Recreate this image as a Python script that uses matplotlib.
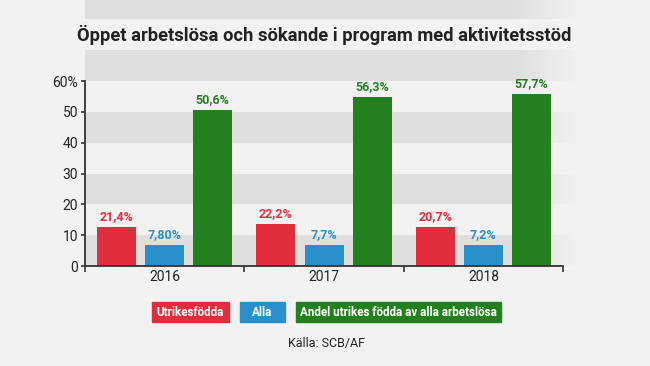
import numpy as np
import matplotlib
matplotlib.use("Agg")
import matplotlib.pyplot as plt

# data (bar heights as drawn, labels as printed)
years = ["2016", "2017", "2018"]
utrikes = [12.7, 13.5, 12.5]
alla = [6.8, 6.7, 6.7]
andel = [50.6, 54.8, 55.7]
utrikes_labels = ["21,4%", "22,2%", "20,7%"]
alla_labels = ["7,80%", "7,7%", "7,2%"]
andel_labels = ["50,6%", "56,3%", "57,7%"]
legend_names = ["Utrikesfödda", "Alla", "Andel utrikes födda av alla arbetslösa"]

RED = "#e22d3e"
BLUE = "#2a90cc"
GREEN = "#23801f"
BG = "#f2f2f2"
BAND = "#dfdfdf"
INK = "#222222"

plt.rcParams["font.family"] = ["Roboto", "DejaVu Sans"]

fig = plt.figure(figsize=(6.5, 3.66), dpi=100)
fig.patch.set_facecolor(BG)
W, H = 650, 366
ax = fig.add_axes([85 / W, 1 - 266 / H, (579 - 85) / W, 266 / H])
ax.set_facecolor(BG)

x0, x1 = -0.5, 2.6
top = 266 / 3.083
ax.set_xlim(x0, x1)
ax.set_ylim(0, top)

# background bands, fading out to the right
ncol = 500
cols = np.linspace(0, 1, ncol)
alpha = np.clip((1 - cols) / 0.13, 0, 1)
nrow = 9
img = np.zeros((nrow, ncol, 4))
band_rgb = np.array(matplotlib.colors.to_rgb(BAND))
bg_rgb = np.array(matplotlib.colors.to_rgb(BG))
for r in range(nrow):
    if r % 2 == 0:
        for c in range(ncol):
            img[r, c, :3] = band_rgb * alpha[c] + bg_rgb * (1 - alpha[c])
    else:
        img[r, :, :3] = bg_rgb
    img[r, :, 3] = 1
ax.imshow(img, extent=(x0, x1, 0, 90), origin="lower", aspect="auto",
          interpolation="nearest", zorder=0)

pos = np.arange(len(years))
w = 0.245
step = 0.302
series = [(utrikes, utrikes_labels, RED, -step),
          (alla, alla_labels, BLUE, 0),
          (andel, andel_labels, GREEN, step)]
for vals, labs, col, off in series:
    ax.bar(pos + off, vals, width=w, color=col, zorder=2)
    for xi, v, lab in zip(pos + off, vals, labs):
        ax.text(xi, v + 1.3, lab, ha="center", va="bottom", color=col,
                fontsize=9, fontweight="bold", zorder=3)

# axes
for s in ["top", "right"]:
    ax.spines[s].set_visible(False)
ax.spines["left"].set_bounds(0, 60)
ax.spines["bottom"].set_bounds(-0.5, 2.5)
for s in ["left", "bottom"]:
    ax.spines[s].set_color("#333333")
    ax.spines[s].set_linewidth(1.3)
    ax.spines[s].set_zorder(4)

ax.set_yticks([0, 10, 20, 30, 40, 50, 60])
ax.set_yticklabels(["0", "10", "20", "30", "40", "50", "60%"])
ax.tick_params(axis="y", length=3, width=1.2, color="#333333", labelsize=10,
               labelcolor=INK, pad=2)
ax.set_xticks([-0.5, 0.5, 1.5, 2.5])
ax.set_xticklabels([])
ax.tick_params(axis="x", which="major", length=4, width=1.2, color="#333333")
ax.set_xticks(pos, minor=True)
ax.set_xticklabels(years, minor=True)
ax.tick_params(axis="x", which="minor", length=0, labelsize=10,
               labelcolor=INK, pad=3)

ax.text(1.0, 74.9, "Öppet arbetslösa och sökande i program med aktivitetsstöd",
        ha="center", va="center", fontsize=13.2, fontweight="bold", color=INK,
        zorder=3)

# legend boxes
boxes = [(152, 229, RED), (240, 285, BLUE), (296, 501, GREEN)]
for (bx0, bx1, col), name in zip(boxes, legend_names):
    fig.patches.append(matplotlib.patches.Rectangle(
        (bx0 / W, 1 - 322 / H), (bx1 - bx0) / W, 20 / H,
        transform=fig.transFigure, color=col))
    fig.text((bx0 + bx1) / 2 / W, 1 - 312 / H, name, ha="center", va="center",
             color="white", fontsize=8.4, fontweight="bold")

fig.text(327 / W, 1 - 344 / H, "Källa: SCB/AF", ha="center", va="center",
         fontsize=9, color=INK)

fig.savefig("out.png", dpi=100, facecolor=BG)
